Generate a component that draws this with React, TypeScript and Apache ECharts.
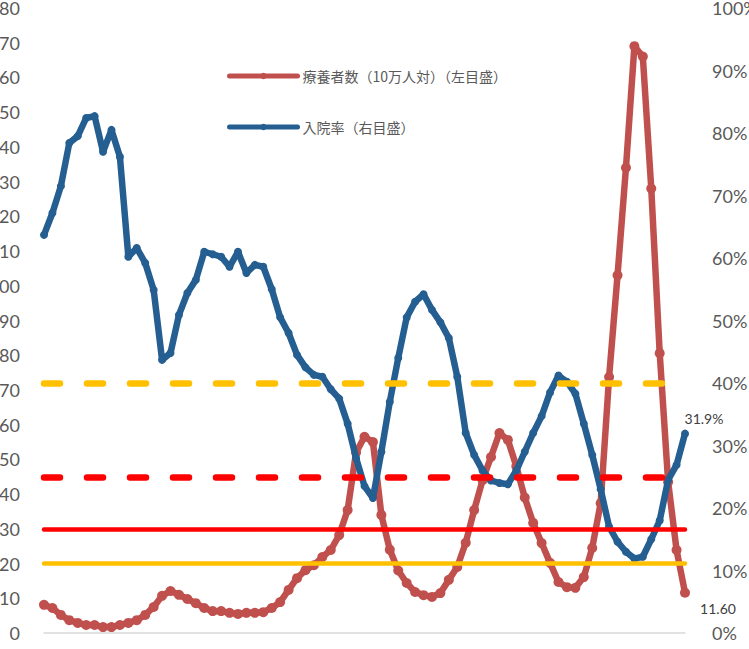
import React, { useEffect, useRef } from "react";
import * as echarts from "echarts";

// 療養者数（10万人対） — left axis
const careValues = [
  8.1, 7.2, 5.2, 3.7, 2.9, 2.3, 2.3, 1.7, 1.7, 2.3,
  2.9, 3.7, 5.2, 7.5, 10.7, 12.1, 11, 9.8, 8.6, 7.2,
  6.3, 6.3, 5.8, 5.5, 5.8, 5.8, 6, 7.2, 8.9, 12.4,
  15.8, 18.1, 19.5, 21.9, 23.9, 28.2, 35.4, 52, 56.5, 55,
  34, 24, 18, 14.4, 11.8, 10.9, 10.4, 11.5, 15.3, 19,
  26, 35.4, 44, 50.7, 57.6, 55.6, 48, 39, 31.7, 25.9,
  20.2, 14.7, 13.2, 13, 16.1, 24.5, 37.4, 73.7, 103, 134,
  169, 166, 128, 80.6, 43.5, 23.9, 11.6,
];

// 入院率 (%) — right axis
const admissionRate = [
  63.7, 67.2, 71.5, 78.4, 79.5, 82.4, 82.7, 77, 80.5, 76.2,
  60.2, 61.6, 59.2, 54.9, 43.7, 44.8, 50.9, 54.4, 56.5, 61,
  60.6, 60.2, 58.6, 61, 57.6, 58.9, 58.6, 55, 50.5, 48,
  44.5, 42.5, 41.3, 41, 39, 37.5, 33.5, 28, 23.5, 21.6,
  29, 37, 44, 50.5, 53, 54.2, 51.7, 49.7, 47.2, 41,
  32, 28.5, 26, 24.4, 24, 23.8, 26, 29, 32, 34.7,
  38.5, 41.2, 40.2, 38.3, 33.5, 28.5, 23, 17, 14.6, 13,
  11.9, 12.2, 15, 18, 24.5, 26.9, 31.9,
];

const weeks = careValues.map((_, i) => `W${i + 1}`);

const careName = "療養者数（10万人対）（左目盛）";
const rateName = "入院率（右目盛）";

// threshold lines
const careThresholds = [
  { value: 30, color: "#FF0000" },
  { value: 20, color: "#FFC000" },
];
const rateThresholds = [
  { value: 40, color: "#FFC000" },
  { value: 25, color: "#FF0000" },
];
const dashedEndIndex = 74;

const leftAxis = { min: 0, max: 180, interval: 10 };
const rightAxis = { min: 0, max: 100, interval: 10 };

const labelFont = "Lato, 'Noto Sans', sans-serif";

export default function App() {
  const ref = useRef<HTMLDivElement>(null);

  useEffect(() => {
    if (!ref.current) return;
    const chart = echarts.init(ref.current, null, { renderer: "svg" });
    const last = careValues.length - 1;

    const careData = careValues.map((v, i) =>
      i === last
        ? {
            value: v,
            label: {
              show: true,
              position: "bottom",
              offset: [33, -1],
              formatter: (p: any) => Number(p.value).toFixed(2),
              color: "#404040",
              fontSize: 14,
              fontFamily: labelFont,
            },
          }
        : v
    );
    const rateData = admissionRate.map((v, i) =>
      i === last
        ? {
            value: v,
            label: {
              show: true,
              position: "top",
              offset: [19, 1],
              formatter: (p: any) => `${Number(p.value).toFixed(1)}%`,
              color: "#404040",
              fontSize: 14,
              fontFamily: labelFont,
            },
          }
        : v
    );

    chart.setOption({
      animation: false,
      backgroundColor: "#ffffff",
      grid: {
        left: 44,
        right: 64,
        top: 8,
        bottom: 16,
        containLabel: false,
        outerBoundsMode: "none",
      },
      legend: {
        data: [careName, rateName],
        orient: "vertical",
        left: 222,
        top: 64,
        itemWidth: 68,
        itemHeight: 8,
        itemGap: 37,
        lineStyle: { width: 5 },
        textStyle: {
          color: "#595959",
          fontSize: 14,
          fontFamily: "'Noto Sans CJK JP', sans-serif",
          lineHeight: 14,
        },
      },
      xAxis: {
        type: "category",
        data: weeks,
        boundaryGap: false,
        axisLine: { show: true, lineStyle: { color: "#D9D9D9", width: 1.5 } },
        axisTick: { show: false },
        axisLabel: { show: false },
        splitLine: { show: false },
      },
      yAxis: [
        {
          type: "value",
          ...leftAxis,
          axisLine: { show: false },
          axisTick: { show: false },
          splitLine: { show: false },
          axisLabel: {
            margin: 24,
            color: "#595959",
            fontSize: 18,
            fontFamily: labelFont,
          },
        },
        {
          type: "value",
          ...rightAxis,
          position: "right",
          axisLine: { show: false },
          axisTick: { show: false },
          splitLine: { show: false },
          axisLabel: {
            margin: 27,
            color: "#595959",
            fontSize: 18,
            fontFamily: labelFont,
            formatter: "{value}%",
          },
        },
      ],
      series: [
        {
          name: careName,
          type: "line",
          yAxisIndex: 0,
          data: careData,
          symbol: "circle",
          symbolSize: 10,
          showSymbol: true,
          showAllSymbol: true,
          lineStyle: { color: "#C0504D", width: 6.5, cap: "round", join: "round" },
          itemStyle: { color: "#C0504D" },
          z: 2,
        },
        {
          name: rateName,
          type: "line",
          yAxisIndex: 1,
          data: rateData,
          symbol: "circle",
          symbolSize: 8,
          showSymbol: true,
          showAllSymbol: true,
          lineStyle: { color: "#255E91", width: 6.5, cap: "round", join: "round" },
          itemStyle: { color: "#255E91" },
          z: 3,
        },
        {
          name: "careThresholds",
          type: "line",
          yAxisIndex: 0,
          data: [],
          z: 5,
          markLine: {
            silent: true,
            symbol: ["none", "none"],
            label: { show: false },
            data: careThresholds.map((t) => ({
              yAxis: t.value,
              lineStyle: { color: t.color, width: 4.5, type: "solid", cap: "round" },
            })),
          },
        },
        {
          name: "rateThresholds",
          type: "line",
          yAxisIndex: 1,
          data: [],
          z: 5,
          markLine: {
            silent: true,
            symbol: ["none", "none"],
            label: { show: false },
            data: rateThresholds.map((t) => [
              {
                coord: [weeks[0], t.value],
                lineStyle: { color: t.color, width: 6.5, type: [16, 27], cap: "round" },
              },
              { coord: [weeks[dashedEndIndex], t.value] },
            ]),
          },
        },
      ],
    });

    return () => chart.dispose();
  }, []);

  return (
    <div
      ref={ref}
      style={{ position: "absolute", left: 0, top: 0, width: 749, height: 649 }}
    />
  );
}
